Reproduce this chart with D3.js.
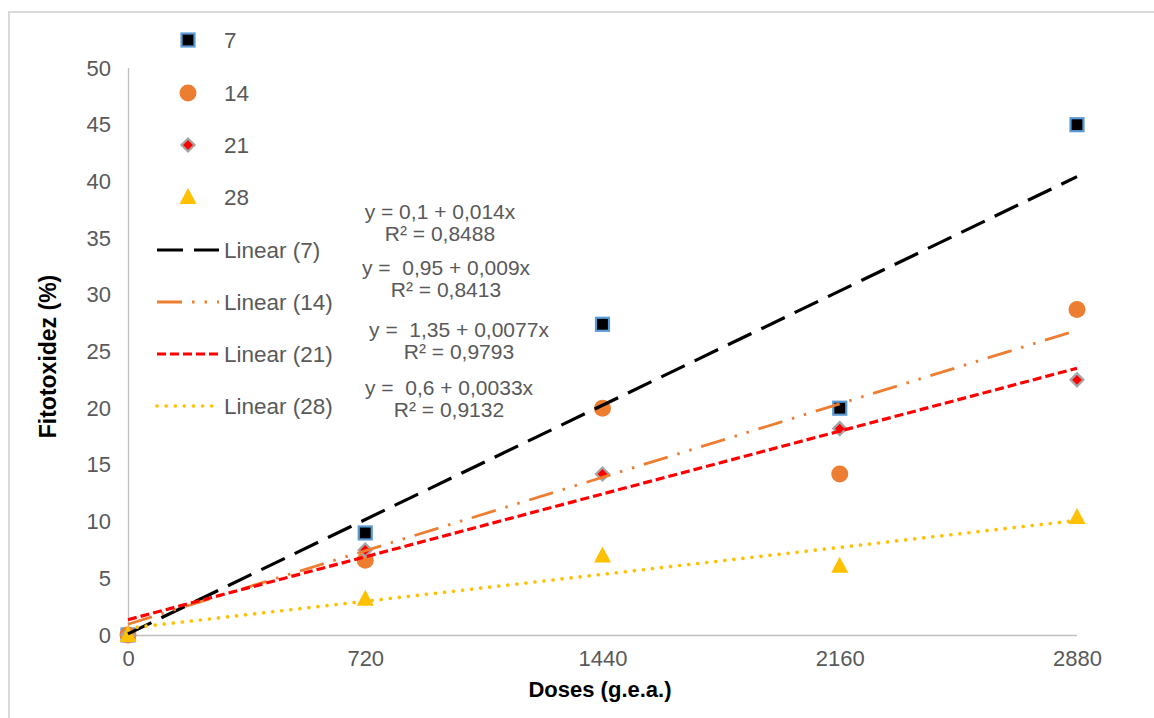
<!doctype html>
<html lang="pt">
  <head>
    <meta charset="UTF-8" />
    <title>Fitotoxidez x Doses</title>
    <script src="https://d3js.org/d3.v7.min.js"></script>
    <style>
      html,body{margin:0;padding:0;background:#fff;}
      svg{font-family:"Liberation Sans",Arial,Helvetica,sans-serif;display:block;}
      .tick-label{fill:#595959;font-size:22px;}
      .leg-label{fill:#595959;font-size:22.5px;}
      .eq{fill:#595959;font-size:21px;text-anchor:middle;white-space:pre;}
      .axis-title{fill:#000;font-size:22px;font-weight:bold;}
    </style>
  </head>
  <body>
    <div id="chart"></div>
    <script>
      /* ────────────── data ───────────── */
      const doses   = [0, 720, 1440, 2160, 2880];
      const xTicks  = [0, 720, 1440, 2160, 2880];
      const yTicks  = [0, 5, 10, 15, 20, 25, 30, 35, 40, 45, 50];
      const series  = ['7', '14', '21', '28'];
      const vals7   = [0, 9.0, 27.4, 20.0, 45.0];
      const vals14  = [0, 6.6, 20.0, 14.2, 28.7];
      const vals21  = [0, 7.5, 14.2, 18.2, 22.5];
      const vals28  = [0, 3.2, 7.0, 6.1, 10.4];
      const intercepts = [0.1, 0.95, 1.35, 0.6];
      const slopes     = [0.014, 0.009, 0.0077, 0.0033];
      const eqLabels = ['y = 0,1 + 0,014x', 'y =  0,95 + 0,009x', 'y =  1,35 + 0,0077x', 'y =  0,6 + 0,0033x'];
      const r2Labels = ['R² = 0,8488', 'R² = 0,8413', 'R² = 0,9793', 'R² = 0,9132'];

      const allVals = [vals7, vals14, vals21, vals28];

      /* ────────────── geometry ───────────── */
      const W = 1154, H = 718;
      const svg = d3.select('#chart').append('svg').attr('width', W).attr('height', H);

      // outer chart frame
      svg.append('rect').attr('x', 9).attr('y', 12).attr('width', W).attr('height', H)
         .attr('fill', 'none').attr('stroke', '#d9d9d9').attr('stroke-width', 2);

      const x = d3.scaleLinear().domain([0, 2880]).range([128, 1077]);
      const y = d3.scaleLinear().domain([0, 50]).range([635, 68]);

      /* ────────────── axes ───────────── */
      const axY = svg.append('g').attr('transform', `translate(${x(0)},0)`)
                     .call(d3.axisLeft(y).tickValues(yTicks).tickSize(0).tickPadding(17));
      const axX = svg.append('g').attr('transform', `translate(0,${y(0)})`)
                     .call(d3.axisBottom(x).tickValues(xTicks).tickFormat(d3.format('d'))
                             .tickSize(0).tickPadding(15));
      [axX, axY].forEach(a => {
        a.select('.domain').attr('stroke', '#bfbfbf').attr('stroke-width', 1.3);
        a.selectAll('text').attr('class', 'tick-label').attr('fill', null)
         .style('font-family', null).attr('font-size', null);
      });
      axX.select('.domain').attr('d', `M${x(0)},0.5H${x(2880)}`);
      axY.select('.domain').attr('d', `M0.5,${y(50)}V${y(0)}`);

      svg.append('text').attr('class', 'axis-title')
         .attr('transform', `translate(56,${(y(0) + y(50)) / 2 + 5}) rotate(-90)`)
         .attr('text-anchor', 'middle').style('font-size', '23px').text('Fitotoxidez (%)');
      svg.append('text').attr('class', 'axis-title')
         .attr('x', 600).attr('y', 697)
         .attr('text-anchor', 'middle').text('Doses (g.e.a.)');

      /* ────────────── marker shapes ───────────── */
      function marker(g, i) {
        if (i === 0) {
          g.append('rect').attr('x', -6.5).attr('y', -6.5).attr('width', 13).attr('height', 13)
           .attr('fill', '#000').attr('stroke', '#5b9bd5').attr('stroke-width', 2.2);
        } else if (i === 1) {
          g.append('circle').attr('r', 8.5).attr('fill', '#ed7d31');
        } else if (i === 2) {
          g.append('path').attr('d', 'M0,-6.5L6.5,0L0,6.5L-6.5,0Z')
           .attr('fill', '#ff0000').attr('stroke', '#a5a5a5').attr('stroke-width', 2.2);
        } else {
          g.append('path').attr('d', 'M0,-9L8.5,7L-8.5,7Z').attr('fill', '#ffc000');
        }
      }

      const lineStyles = [
        {color: '#000000', width: 3.2, dash: '26,11', cap: 'butt'},
        {color: '#ed7d31', width: 2.8, dash: '25,10,2.5,10,2.5,10', cap: 'butt'},
        {color: '#ff0000', width: 3.2, dash: '9,4', cap: 'butt'},
        {color: '#ffc000', width: 3.6, dash: '0.1,9', cap: 'round'}
      ];

      /* ────────────── points ───────────── */
      allVals.forEach((vals, i) => {
        svg.append('g').selectAll('g').data(vals).join('g')
           .attr('transform', (d, j) => `translate(${x(doses[j])},${y(d)})`)
           .each(function () { marker(d3.select(this), i); });
      });

      /* ────────────── trendlines ───────────── */
      const line = d3.line().x(d => x(d[0])).y(d => y(d[1]));
      intercepts.forEach((a, i) => {
        const st = lineStyles[i];
        const xs = [doses[0], doses[doses.length - 1]];
        svg.append('path').attr('d', line(xs.map(v => [v, a + slopes[i] * v])))
           .attr('fill', 'none').attr('stroke', st.color).attr('stroke-width', st.width)
           .attr('stroke-dasharray', st.dash).attr('stroke-linecap', st.cap);
      });

      /* ────────────── legend ───────────── */
      const legMarkY = [40, 93, 145, 197];
      series.forEach((s, i) => {
        const g = svg.append('g').attr('transform', `translate(188,${legMarkY[i]})`);
        marker(g, i);
        svg.append('text').attr('class', 'leg-label').attr('x', 224).attr('y', legMarkY[i] + 8).text(s);
      });
      const legLineY = [250, 302, 354, 406];
      series.forEach((s, i) => {
        const st = lineStyles[i];
        svg.append('line').attr('x1', 157).attr('x2', 219).attr('y1', legLineY[i]).attr('y2', legLineY[i])
           .attr('stroke', st.color).attr('stroke-width', st.width)
           .attr('stroke-dasharray', st.dash).attr('stroke-linecap', st.cap);
        svg.append('text').attr('class', 'leg-label').attr('x', 224).attr('y', legLineY[i] + 8)
           .text(`Linear (${s})`);
      });

      /* ────────────── equation labels ───────────── */
      const eqX = [440, 446, 459, 449];
      const eqY = [219, 275, 337, 395];
      eqLabels.forEach((t, i) => {
        svg.append('text').attr('class', 'eq').attr('x', eqX[i]).attr('y', eqY[i]).text(t);
        svg.append('text').attr('class', 'eq').attr('x', eqX[i]).attr('y', eqY[i] + 22).text(r2Labels[i]);
      });
    </script>
  </body>
</html>
